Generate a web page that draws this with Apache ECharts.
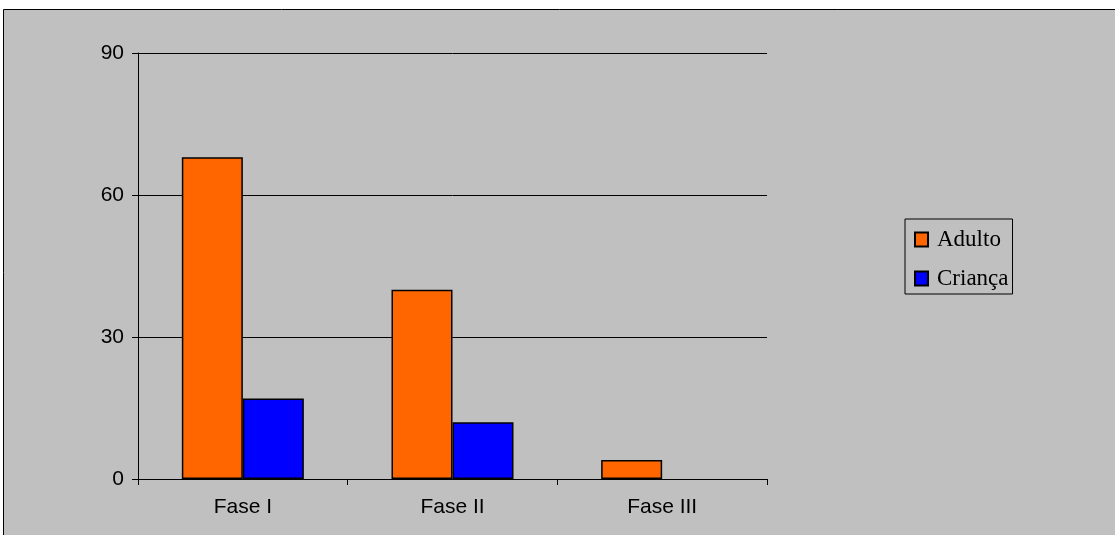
<!DOCTYPE html>
<html>
<head>
<meta charset="utf-8">
<style>
  html, body { margin: 0; padding: 0; background: #ffffff; }
  #chart { width: 1115px; height: 535px; }
</style>
<script src="https://cdn.jsdelivr.net/npm/echarts@6/dist/echarts.min.js"></script>
</head>
<body>
<div id="chart"></div>
<script>
// Phases on the category axis
const categories = ['Fase I', 'Fase II', 'Fase III'];
// Counts per phase
const adulto = [68, 40, 4];
const crianca = [17, 12, 0];
// Value-axis ticks
const yTicks = [0, 30, 60, 90];

const chart = echarts.init(document.getElementById('chart'), null, { renderer: 'canvas' });

// Zero-height bars get no outline, so nothing is drawn for them
function withOutline(values) {
  return values.map(v => ({
    value: v,
    itemStyle: { borderWidth: v === 0 ? 0 : 1.5 }
  }));
}

chart.setOption({
  backgroundColor: '#ffffff',
  animation: false,
  graphic: [
    {
      type: 'rect',
      z: -10,
      silent: true,
      shape: { x: 3.5, y: 9.5, width: 1200, height: 600 },
      style: { fill: '#C0C0C0', stroke: '#000000', lineWidth: 1 }
    }
  ],
  grid: { left: 138, right: 348, top: 53, bottom: 56 },
  legend: {
    orient: 'vertical',
    left: 905,
    top: 219,
    width: 109,
    padding: [9, 4, 4, 9],
    itemGap: 16,
    itemWidth: 13,
    itemHeight: 14,
    icon: 'rect',
    borderColor: '#000000',
    borderWidth: 1,
    backgroundColor: 'transparent',
    textStyle: {
      fontFamily: 'Liberation Serif',
      fontSize: 23,
      color: '#000000',
      padding: [0, 0, 0, 4]
    },
    data: ['Adulto', 'Criança']
  },
  xAxis: {
    type: 'category',
    data: categories,
    axisLine: { show: true, lineStyle: { color: '#000000', width: 1 } },
    axisTick: { show: true, length: 6, lineStyle: { color: '#000000' } },
    axisLabel: {
      margin: 18,
      fontFamily: 'Liberation Sans',
      fontSize: 21,
      color: '#000000'
    },
    splitLine: { show: false }
  },
  yAxis: {
    type: 'value',
    min: yTicks[0],
    max: yTicks[yTicks.length - 1],
    interval: yTicks[1] - yTicks[0],
    axisLine: { show: true, lineStyle: { color: '#000000', width: 1 } },
    axisTick: { show: true, length: 6, lineStyle: { color: '#000000' } },
    axisLabel: {
      margin: 14,
      fontFamily: 'Liberation Sans',
      fontSize: 21,
      color: '#000000'
    },
    splitLine: { show: true, lineStyle: { color: '#000000', width: 1 } }
  },
  series: [
    {
      name: 'Adulto',
      type: 'bar',
      data: withOutline(adulto),
      barWidth: 61,
      barGap: '0%',
      itemStyle: { color: '#FF6600', borderColor: '#000000', borderWidth: 1.5 }
    },
    {
      name: 'Criança',
      type: 'bar',
      data: withOutline(crianca),
      barWidth: 61,
      barGap: '0%',
      itemStyle: { color: '#0000FF', borderColor: '#000000', borderWidth: 1.5 }
    }
  ]
});
</script>
</body>
</html>
